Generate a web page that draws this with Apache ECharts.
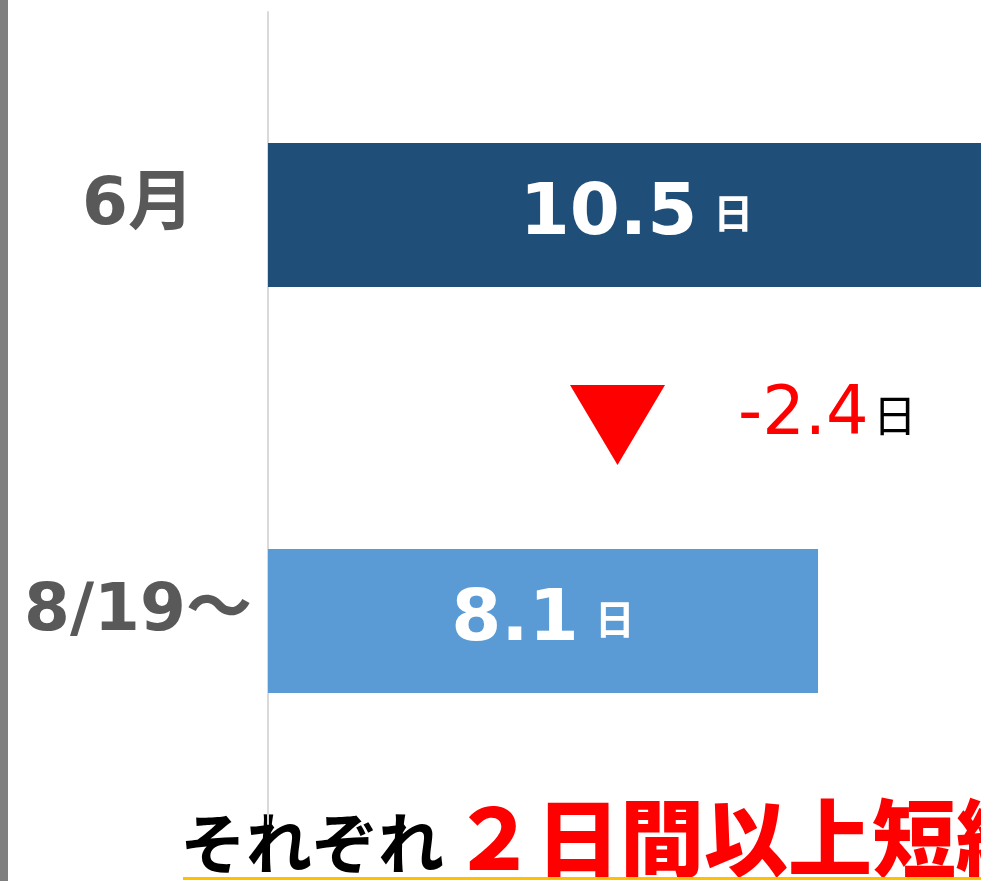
<!DOCTYPE html>
<html>
<head>
<meta charset="utf-8">
<script src="https://cdn.jsdelivr.net/npm/echarts@6/dist/echarts.min.js"></script>
<style>
  html, body { margin: 0; padding: 0; background: #fff; }
  #main { width: 981px; height: 881px; }
</style>
</head>
<body>
<div id="main"></div>
<script>
// データ
const categories = ['6月', '8/19～'];
const days = [10.5, 8.1];
const barColors = ['#1F4E79', '#5B9BD5'];
const diffText = '-2.4';
const headline = ['それぞれ', '２日間以上短縮'];

const chart = echarts.init(document.getElementById('main'));

const option = {
    animation: false,
    grid: { left: 268, right: 0, top: 12, bottom: 57 },
    xAxis: {
        type: 'value',
        min: 0,
        max: 10.5,
        show: false
    },
    yAxis: {
        type: 'category',
        inverse: true,
        data: categories,
        axisLine: { lineStyle: { color: '#d9d9d9', width: 2 } },
        axisTick: { show: false },
        axisLabel: {
            align: 'center',
            verticalAlign: 'bottom',
            lineHeight: 16,
            margin: 130,
            fontSize: 66,
            fontWeight: 'bold',
            color: '#595959',
            fontFamily: '"DejaVu Sans", "Noto Sans CJK JP", sans-serif'
        }
    },
    series: [{
        type: 'bar',
        barWidth: 144,
        data: days.map((v, i) => ({
            value: v,
            itemStyle: { color: barColors[i] },
            label: { offset: [i === 0 ? 12 : 0, 0] }
        })),
        label: {
            show: true,
            position: 'inside',
            formatter: p => '{v|' + p.value + '}{u|日}',
            rich: {
                v: { fontSize: 72, fontWeight: 'bold', color: '#fff', fontFamily: '"DejaVu Sans", sans-serif' },
                u: { fontSize: 40, fontWeight: 'bold', color: '#fff', fontFamily: '"Noto Sans CJK JP", sans-serif', padding: [0, 0, 4, 16] }
            }
        }
    }],
    graphic: [
        // 左端のグレー帯
        { type: 'rect', shape: { x: 0, y: 0, width: 8, height: 881 }, style: { fill: '#7f7f7f' } },
        // 減少の三角
        { type: 'polygon', shape: { points: [[570, 385], [665, 385], [617.5, 465]] }, style: { fill: '#ff0000' } },
        {
            type: 'text', x: 738, y: 450,
            style: {
                text: '{d|' + diffText + '}{u|日}',
                verticalAlign: 'bottom',
                rich: {
                    d: { fontSize: 67, fill: '#ff0000', fontFamily: '"DejaVu Sans", sans-serif' },
                    u: { fontSize: 44, fill: '#000', fontFamily: '"Noto Sans CJK JP", sans-serif', padding: [0, 0, 2, 4] }
                }
            }
        },
        // 見出し
        {
            type: 'text', x: 180, y: 843,
            style: {
                text: headline[0], fontSize: 66, fontWeight: 'bold', fill: '#000',
                fontFamily: '"Noto Sans CJK JP", sans-serif', verticalAlign: 'middle'
            }
        },
        {
            type: 'text', x: 452, y: 838,
            style: {
                text: headline[1], fontSize: 84, fontWeight: 900, fill: '#ff0000',
                fontFamily: '"Noto Sans CJK JP", sans-serif', verticalAlign: 'middle'
            }
        },
        { type: 'rect', shape: { x: 183, y: 877, width: 800, height: 3 }, style: { fill: '#FFC000' } }
    ]
};

chart.setOption(option);
</script>
</body>
</html>
